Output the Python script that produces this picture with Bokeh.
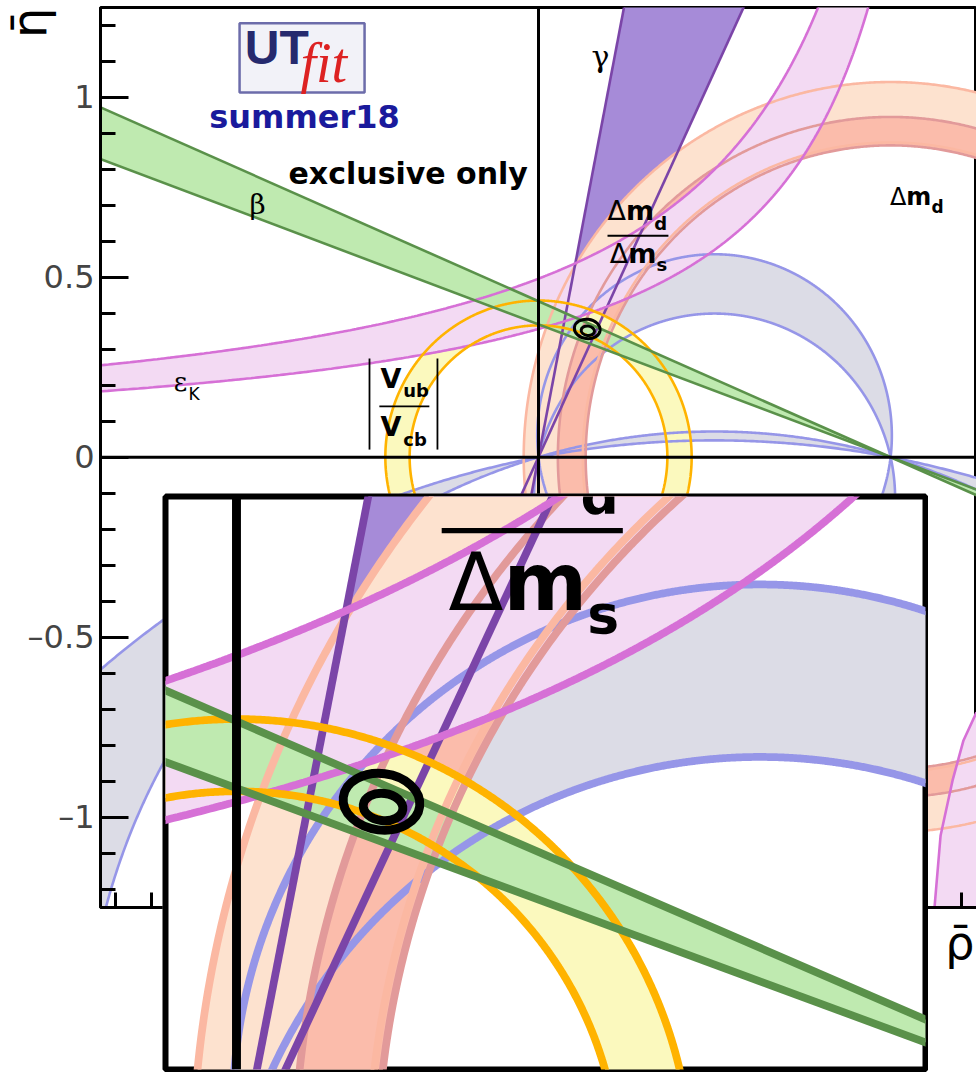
import numpy as np
from bokeh.plotting import figure
from bokeh.models import Range1d, Span, SingleIntervalTicker, CustomJSTickFormatter
from bokeh.layouts import column
from bokeh.embed import file_html
from bokeh.resources import INLINE
from bokeh.core.properties import value

# ---------------- values (rho-bar / eta-bar plane) ----------------
beta_tan = [0.369, 0.433]          # tan(beta) of the two beta-band edges (lines through (1,0))
gamma_deg = [65.0, 79.0]           # gamma-band edge angles (lines through (0,0))
vub_radii = [0.366, 0.435]         # |Vub/Vcb| ring around (0,0)
dmd_radii = [0.874, 1.042]         # Delta m_d ring around (1,0)
dmds_radii = [0.866, 0.945]        # Delta m_d / Delta m_s ring around (1,0)
alpha_upper_c = [0.060, -0.114]    # alpha: centres (0.5, c) of circles through (0,0),(1,0)
alpha_lower_c = [-1.72, -2.66]
epsk_k = [0.653, 0.4665]           # epsilon_K band edges: eta = k / (a - rho)
epsk_a = [1.317, 1.310]
epsk2_rho = [1.125, 1.142, 1.176, 1.207, 1.244]   # second epsilon_K piece, lower right corner
epsk2_eta = [-1.248, -1.051, -0.898, -0.787, -0.709]
fit_rho = [0.1385, 0.140]          # fit contours (outer, inner)
fit_eta = [0.356, 0.351]
fit_w = [0.0735, 0.038]
fit_h = [0.054, 0.026]
y_ticks = [-1.0, -0.5, 0.0, 0.5, 1.0]
y_tick_labels = ["\u20131", "\u20130.5", "0", "0.5", "1"]

# labels: text, rho, eta (vertical centre), size(px), style, family, align
lab_text = ["\u03b3", "\u03b2", "\u03b5", "K", "V", "ub", "V", "cb",
            "\u0394", "m", "d", "\u0394", "m", "s", "\u0394", "m", "d"]
lab_rho = [0.176, -0.798, -1.017, -0.994, -0.449, -0.384, -0.449, -0.384,
           0.196, 0.2485, 0.3285, 0.2025, 0.255, 0.335, 0.998, 1.0446, 1.116]
lab_eta = [1.113, 0.701, 0.210, 0.175, 0.218, 0.184, 0.085, 0.048,
           0.686, 0.686, 0.649, 0.566, 0.566, 0.535, 0.723, 0.723, 0.694]
lab_size = [30, 28, 26, 17, 27, 18, 27, 18,
            27, 27, 18, 27, 27, 18, 24, 24, 17]
lab_style = ["normal", "normal", "normal", "normal", "bold", "bold", "bold", "bold",
             "normal", "bold", "bold", "normal", "bold", "bold", "normal", "bold", "bold"]
lab_family = ["DejaVu Serif", "DejaVu Serif", "DejaVu Serif"] + ["DejaVu Sans"] * 14
lab_align = ["center", "center", "center"] + ["left"] * 14

# fraction / absolute-value bars (rho0, eta0, rho1, eta1)
bar_r0 = [-0.452, -0.480, -0.287, 0.196]
bar_e0 = [0.141, 0.021, 0.021, 0.615]
bar_r1 = [-0.310, -0.480, -0.287, 0.369]
bar_e1 = [0.141, 0.274, 0.274, 0.615]

# colours
C_ALPHA_F, C_ALPHA_L = "#dcdce6", "#9696e8"
C_GAM_F, C_GAM_L = "#a68bd8", "#7b45a8"
C_DMD_F, C_DMD_L = "#fde2cf", "#fbb8a2"
C_DMS_F, C_DMS_L = "#fbbcab", "#e29a9a"
C_VUB_F, C_VUB_L = "#fbf9be", "#ffb300"
C_EPS_F, C_EPS_L = "#f3daf3", "#d670d6"
C_BET_F, C_BET_L = "#bfeab0", "#5a914a"


def circle(cx, cy, r, start, n=1441, ccw=True):
    t = np.linspace(0, 2 * np.pi, n)
    if not ccw:
        t = -t
    t = t + start
    return cx + r * np.cos(t), cy + r * np.sin(t)


def ring(cx, cy, radii):
    xo, yo = circle(cx, cy, radii[1], 0.0, ccw=True)
    xi, yi = circle(cx, cy, radii[0], 0.0, ccw=False)
    return (np.concatenate([xo, xi]), np.concatenate([yo, yi]), [xo, xi], [yo, yi])


def alpha_lune(cs):
    xs, ys = [], []
    for i, c in enumerate(cs):
        r = np.sqrt(0.25 + c * c)
        st = np.arctan2(-c, -0.5)
        x, y = circle(0.5, c, r, st, n=3001, ccw=(i == 0))
        xs.append(x)
        ys.append(y)
    return np.concatenate(xs), np.concatenate(ys), xs, ys


def bowtie(px, py, d1, d2, L=4.0):
    a = np.array([px + L * d1[0], px + L * d2[0], px - L * d2[0], px - L * d1[0]])
    b = np.array([py + L * d1[1], py + L * d2[1], py - L * d2[1], py - L * d1[1]])
    lx = [[px - L * d1[0], px + L * d1[0]], [px - L * d2[0], px + L * d2[0]]]
    ly = [[py - L * d1[1], py + L * d1[1]], [py - L * d2[1], py + L * d2[1]]]
    return a, b, lx, ly


def epsk_edges():
    out = []
    for k, a in zip(epsk_k, epsk_a):
        eta = np.linspace(k / (a + 1.8), 1.8, 1500)
        out.append((a - k / eta, eta))
    return out


def draw(fig, s, xr, yr):
    lw = 2.6 * s
    ax1, ay1, alx1, aly1 = alpha_lune(alpha_upper_c)
    ax2, ay2, alx2, aly2 = alpha_lune(alpha_lower_c)
    g1, g2 = np.radians(gamma_deg)
    gx, gy, glx, gly = bowtie(0.0, 0.0, (np.cos(g1), np.sin(g1)), (np.cos(g2), np.sin(g2)))
    dx, dy, dlx, dly = ring(1.0, 0.0, dmd_radii)
    sx, sy, slx, sly = ring(1.0, 0.0, dmds_radii)
    vx, vy, vlx, vly = ring(0.0, 0.0, vub_radii)
    (eux, euy), (elx, ely) = epsk_edges()
    ex = np.concatenate([eux, elx[::-1]])
    ey = np.concatenate([euy, ely[::-1]])
    e2x = [epsk2_rho[0]] + list(epsk2_rho) + [1.40, 1.40]
    e2y = [-1.40] + list(epsk2_eta) + [epsk2_eta[-1], -1.40]
    bx, by, blx, bly = bowtie(1.0, 0.0, (-1.0, beta_tan[0]), (-1.0, beta_tan[1]))

    # filled areas
    fig.patch(ax1, ay1, fill_color=C_ALPHA_F, line_color=None)
    fig.patch(ax2, ay2, fill_color=C_ALPHA_F, line_color=None)
    fig.patch(gx, gy, fill_color=C_GAM_F, line_color=None)
    fig.patch(dx, dy, fill_color=C_DMD_F, line_color=None)
    fig.patch(sx, sy, fill_color=C_DMS_F, line_color=None)
    fig.patch(vx, vy, fill_color=C_VUB_F, line_color=None)
    fig.patch(ex, ey, fill_color=C_EPS_F, line_color=None)
    fig.patch(e2x, e2y, fill_color=C_EPS_F, line_color=None)
    fig.patch(bx, by, fill_color=C_BET_F, line_color=None)
    # band edges
    fig.multi_line(alx1 + alx2, aly1 + aly2, line_color=C_ALPHA_L, line_width=lw)
    fig.multi_line(dlx, dly, line_color=C_DMD_L, line_width=lw)
    fig.multi_line(slx, sly, line_color=C_DMS_L, line_width=lw)
    fig.multi_line(glx, gly, line_color=C_GAM_L, line_width=lw)
    fig.multi_line([eux, elx, epsk2_rho], [euy, ely, epsk2_eta], line_color=C_EPS_L, line_width=lw)
    fig.multi_line(vlx, vly, line_color=C_VUB_L, line_width=lw)
    fig.multi_line(blx, bly, line_color=C_BET_L, line_width=lw)
    # fit contours
    fig.ellipse(x=fit_rho, y=fit_eta, width=fit_w, height=fit_h, angle=-0.12,
                fill_color=None, line_color="black", line_width=3.0 * s)
    # axes through the origin
    fig.add_layout(Span(location=0, dimension="height", line_color="black", line_width=3.0 * s))
    if yr[0] < 0 < yr[1]:
        fig.add_layout(Span(location=0, dimension="width", line_color="black", line_width=3.0 * s))
    # labels (only those reaching into the visible window)
    for t, r, e, sz, st, fam, al in zip(lab_text, lab_rho, lab_eta, lab_size, lab_style,
                                         lab_family, lab_align):
        if not (xr[0] - 0.02 <= r <= xr[1] and yr[0] <= e <= yr[1] + 0.02):
            continue
        fig.text(x=[r], y=[e], text=[t], text_font=value(fam), text_font_size=f"{sz * s:.1f}px",
                 text_font_style=st, text_align=al, text_baseline="middle", text_color="black")
    fig.segment(bar_r0, bar_e0, bar_r1, bar_e1, line_color="black", line_width=1.8 * s)


def bare(fig):
    fig.xgrid.visible = False
    fig.ygrid.visible = False
    fig.frame_align = False


# ---------------- main plot ----------------
XR, YR = (-1.244, 1.244), (-1.251, 1.249)
p = figure(width=976, height=1072, x_range=Range1d(*XR), y_range=Range1d(*YR),
           output_backend="svg", toolbar_location=None,
           min_border_left=100, min_border_right=0, min_border_top=7, min_border_bottom=165)
bare(p)
p.background_fill_color = "white"
p.border_fill_color = "white"
p.outline_line_color = "black"
p.outline_line_width = 3

draw(p, 1.0, XR, YR)

for ax in (p.xaxis[0], p.yaxis[0]):
    ax.ticker = SingleIntervalTicker(interval=0.5, num_minor_ticks=5)
    ax.axis_line_width = 3
    ax.major_tick_line_width = 3
    ax.minor_tick_line_width = 3
    ax.major_tick_in = 28
    ax.major_tick_out = 0
    ax.minor_tick_in = 15
    ax.minor_tick_out = 0
p.yaxis.major_label_overrides = {t: l for t, l in zip(y_ticks, y_tick_labels)}
p.yaxis.major_label_text_font = "DejaVu Sans"
p.yaxis.major_label_text_font_size = "32px"
p.yaxis.major_label_standoff = 6
p.xaxis.formatter = CustomJSTickFormatter(code="return ''")

# logo and titles
p.quad(left=[-0.849], right=[-0.494], bottom=[1.013], top=[1.205],
       fill_color="#f2f2f8", line_color="#6c6caa", line_width=2.5)
p.text(x=[-0.834], y=[1.137], text=["UT"], text_font=value("Liberation Sans"),
       text_font_size="48px", text_font_style="bold", text_color="#262a6e",
       text_baseline="middle")
p.text(x=[-0.676], y=[1.094], text=["fit"], text_font=value("Liberation Serif"),
       text_font_size="56px", text_font_style="italic", text_color="#dd2222",
       text_baseline="middle")
p.text(x=[-0.935], y=[0.944], text=["summer18"], text_font=value("DejaVu Sans"),
       text_font_size="32px", text_font_style="bold", text_color="#1a1a9c",
       text_baseline="middle")
p.text(x=[-0.710], y=[0.787], text=["exclusive only"], text_font=value("DejaVu Sans"),
       text_font_size="30px", text_font_style="bold", text_color="black",
       text_baseline="middle")


# ---------------- axis titles (small transparent overlays, pixel coordinates) ----------------
def overlay(w, h):
    f = figure(width=w, height=h, x_range=Range1d(0, w), y_range=Range1d(0, h),
               output_backend="svg", toolbar_location=None, x_axis_type=None, y_axis_type=None,
               min_border=0)
    bare(f)
    f.background_fill_color = None
    f.border_fill_color = None
    f.outline_line_color = None
    return f


eta_t = overlay(80, 70)
eta_t.text(x=[28], y=[63], text=["\u03b7\u0304"], angle=np.pi / 2, text_align="right",
           text_baseline="middle", text_font=value("DejaVu Sans"), text_font_size="48px",
           text_color="black")
eta_t.margin = (-1072, 0, 0, 0)

rho_t = overlay(76, 70)
rho_t.text(x=[74], y=[40], text=["\u03c1\u0304"], text_align="right",
           text_baseline="middle", text_font=value("DejaVu Sans"), text_font_size="46px",
           text_color="black")
rho_t.margin = (842, 0, 0, 900)

# ---------------- inset (3x zoom near the apex) ----------------
QX, QY = (-0.0678, 0.6581), (0.1003, 0.6476)
q = figure(width=766, height=579, x_range=Range1d(*QX), y_range=Range1d(*QY),
           output_backend="svg", toolbar_location=None, x_axis_type=None, y_axis_type=None,
           min_border=3)
bare(q)
q.background_fill_color = "white"
q.border_fill_color = "white"
q.outline_line_color = "black"
q.outline_line_width = 6
draw(q, 2.975, QX, QY)
q.margin = (-489, 0, 0, 162)

layout = column(p, eta_t, rho_t, q, spacing=0)
open("out.html", "w").write(file_html(layout, INLINE))
